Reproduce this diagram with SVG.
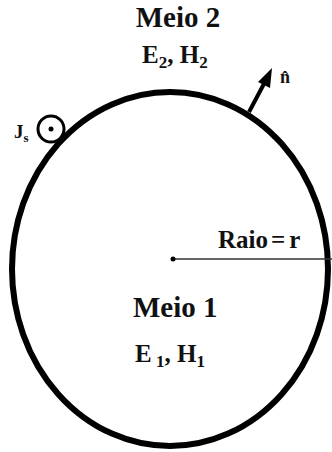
<svg xmlns="http://www.w3.org/2000/svg" width="332" height="452" viewBox="0 0 332 452">
<style>
text{font-family:"Liberation Serif","DejaVu Serif","Times New Roman",serif;font-weight:bold;fill:#111;}
</style>
<rect width="332" height="452" fill="#fff"/>
<g id="boundary">
<ellipse cx="170" cy="269" rx="158" ry="177" fill="none" stroke="#000" stroke-width="6"/>
</g>
<g id="connectors">
<line x1="173" y1="259" x2="332" y2="259" stroke="#333" stroke-width="1.5"/>
<circle cx="173" cy="259" r="2.5" fill="#000"/>
<line x1="249" y1="112" x2="266" y2="80" stroke="#000" stroke-width="4"/>
<path d="M272,68 L270,88 L258,82 Z" fill="#000"/>
</g>
<g id="meio2">
<text x="178" y="27" font-size="29" text-anchor="middle">Meio 2</text>
<text x="142" y="63" font-size="25">E<tspan font-size="17" dy="5">2</tspan><tspan dy="-5">, H</tspan><tspan font-size="17" dy="5">2</tspan></text>
</g>
<g id="normal">
<text x="280" y="83" font-size="18">n̂</text>
</g>
<g id="js">
<text x="14" y="138" font-size="19">J<tspan font-size="13" dy="4">s</tspan></text>
<circle cx="51" cy="129" r="13" fill="none" stroke="#000" stroke-width="3"/>
<circle cx="51" cy="129" r="2.5" fill="#000"/>
</g>
<g id="raio">
<text x="218" y="248" font-size="25">Raio<tspan dx="3">=</tspan><tspan dx="4">r</tspan></text>
</g>
<g id="meio1">
<text x="133" y="317" font-size="29">Meio 1</text>
<text x="135" y="362" font-size="25">E<tspan font-size="17" dy="5"> 1</tspan><tspan dy="-5">, H</tspan><tspan font-size="17" dy="5">1</tspan></text>
</g>
</svg>
